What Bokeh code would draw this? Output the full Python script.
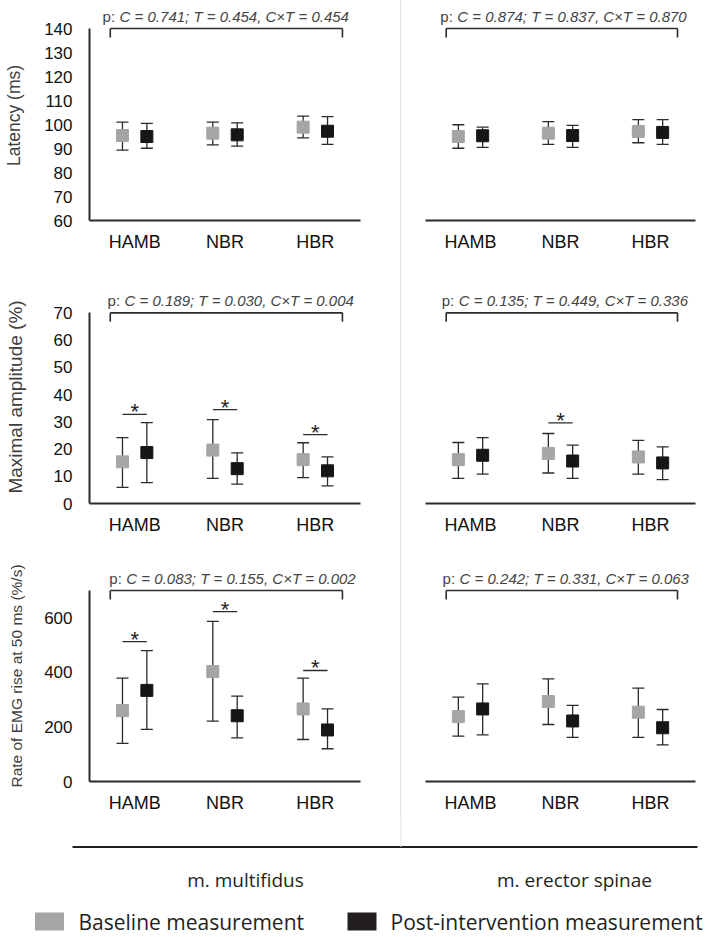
from bokeh.plotting import figure
from bokeh.models import (Range1d, FixedTicker, Whisker, TeeHead, ColumnDataSource,
                          Label, LabelSet, Div)
from bokeh.layouts import column, row
from bokeh.embed import file_html
from bokeh.resources import INLINE
from bokeh.core.properties import value

# ---------------- data ----------------
categories = ["HAMB", "NBR", "HBR"]

# Latency (ms)
lat_mf_base = [95.4, 96.4, 98.9]
lat_mf_base_lo = [89.3, 91.5, 94.4]
lat_mf_base_hi = [101.0, 101.0, 103.5]
lat_mf_post = [95.0, 95.7, 97.2]
lat_mf_post_lo = [90.1, 91.0, 91.7]
lat_mf_post_hi = [100.5, 100.7, 103.3]
lat_es_base = [95.0, 96.4, 97.1]
lat_es_base_lo = [90.1, 91.7, 92.4]
lat_es_base_hi = [99.9, 101.2, 102.0]
lat_es_post = [95.3, 95.4, 96.7]
lat_es_post_lo = [90.5, 90.5, 91.7]
lat_es_post_hi = [98.9, 99.6, 102.0]

# Maximal amplitude (%)
amp_mf_base = [15.3, 19.6, 16.1]
amp_mf_base_lo = [5.9, 9.2, 9.5]
amp_mf_base_hi = [24.2, 30.8, 22.3]
amp_mf_post = [18.7, 12.8, 12.0]
amp_mf_post_lo = [7.7, 7.1, 6.5]
amp_mf_post_hi = [29.7, 18.6, 17.1]
amp_es_base = [16.1, 18.4, 17.1]
amp_es_base_lo = [9.2, 11.2, 10.8]
amp_es_base_hi = [22.4, 25.7, 23.2]
amp_es_post = [17.7, 15.6, 14.9]
amp_es_post_lo = [10.8, 9.2, 8.8]
amp_es_post_hi = [24.2, 21.4, 20.8]

# Rate of EMG rise at 50 ms (%/s)
emg_mf_base = [260, 403, 266]
emg_mf_base_lo = [140, 221, 154]
emg_mf_base_hi = [379, 587, 379]
emg_mf_post = [334, 241, 189]
emg_mf_post_lo = [191, 160, 120]
emg_mf_post_hi = [480, 313, 266]
emg_es_base = [238, 293, 254]
emg_es_base_lo = [166, 209, 162]
emg_es_base_hi = [309, 376, 342]
emg_es_post = [266, 222, 197]
emg_es_post_lo = [171, 162, 134]
emg_es_post_hi = [358, 279, 264]

# p-values text
p_lat_mf = "C = 0.741; T = 0.454, C×T = 0.454"
p_lat_es = "C = 0.874; T = 0.837, C×T = 0.870"
p_amp_mf = "C = 0.189; T = 0.030, C×T = 0.004"
p_amp_es = "C = 0.135; T = 0.449, C×T = 0.336"
p_emg_mf = "C = 0.083; T = 0.155, C×T = 0.002"
p_emg_es = "C = 0.242; T = 0.331, C×T = 0.063"

# significant pairwise differences (category index, level of the bar)
sig_amp_mf_cat = [0, 1, 2]
sig_amp_mf_lvl = [32.7, 34.5, 25.3]
sig_amp_es_cat = [1]
sig_amp_es_lvl = [29.6]
sig_emg_mf_cat = [0, 1, 2]
sig_emg_mf_lvl = [513, 623, 407]

muscles = ["m. multifidus", "m. erector spinae"]
legend_labels = ["Baseline measurement", "Post-intervention measurement"]

# ---------------- styles ----------------
GREY = "#a5a5a5"
BLACK = "#161616"
LINE = "#2b2b2b"
SEP = "#e2e2e2"
ARIAL = "Liberation Sans"
DODGE = 0.135


def panel(width, height, border, yr, bounds, ticks, base, post, ptext, pstart,
          ytitle=None, ytitle_size="17px", ytitle_standoff=16, sig=None):
    bl, br, bt, bb = border
    p = figure(width=width, height=height, x_range=Range1d(0.5, 3.5),
               y_range=Range1d(*yr), output_backend="svg", toolbar_location=None,
               title=None, min_border_left=bl, min_border_right=br,
               min_border_top=bt, min_border_bottom=bb,
               y_axis_location="left" if ytitle else None,
               outline_line_color=None, background_fill_color="white",
               border_fill_color="white")
    p.grid.visible = False
    frame_h = height - bt - bb
    ppu = frame_h / (yr[1] - yr[0])

    # x axis
    xa = p.xaxis[0]
    xa.ticker = FixedTicker(ticks=[1, 2, 3])
    xa.major_label_overrides = {i + 1: c for i, c in enumerate(categories)}
    xa.major_label_text_font = ARIAL
    xa.major_label_text_font_size = "18px"
    xa.major_label_text_color = "#111111"
    xa.major_label_standoff = 5
    xa.major_tick_line_color = None
    xa.minor_tick_line_color = None
    xa.axis_line_width = 2
    xa.axis_line_color = LINE

    if ytitle:
        ya = p.yaxis[0]
        ya.ticker = FixedTicker(ticks=ticks)
        ya.bounds = bounds
        ya.major_label_text_font = ARIAL
        ya.major_label_text_font_size = "17px"
        ya.major_label_text_color = "#111111"
        ya.major_label_standoff = 11
        ya.major_tick_line_color = None
        ya.minor_tick_line_color = None
        ya.axis_line_width = 2
        ya.axis_line_color = LINE
        ya.axis_label = ytitle
        ya.axis_label_text_font = ARIAL
        ya.axis_label_text_font_style = "normal"
        ya.axis_label_text_font_size = ytitle_size
        ya.axis_label_text_color = "#404040"
        ya.axis_label_standoff = ytitle_standoff

    # error bars + markers
    for (vals, lo, hi), off, col in ((base, -DODGE, GREY), (post, DODGE, BLACK)):
        xs = [i + 1 + off for i in range(len(vals))]
        src = ColumnDataSource(dict(x=xs, y=vals, lo=lo, hi=hi))
        w = Whisker(base="x", lower="lo", upper="hi", source=src, dimension="height",
                    line_color=LINE, line_width=1.3,
                    upper_head=TeeHead(size=12, line_color=LINE, line_width=1.3),
                    lower_head=TeeHead(size=12, line_color=LINE, line_width=1.3))
        p.add_layout(w)
        p.scatter(x="x", y="y", source=src, marker="square", size=12,
                  fill_color=col, line_color=col)

    # bracket with p-values
    ytop = bounds[1]
    tick = 9 / ppu
    bx0, bx1 = 0.73, 3.3
    p.segment(x0=[bx0, bx0, bx1], y0=[ytop, ytop, ytop], x1=[bx1, bx0, bx1],
              y1=[ytop, ytop - tick, ytop - tick], line_color=LINE, line_width=1.6)
    p.add_layout(Label(x=pstart, y=ytop, y_offset=12, text="p:", text_font=ARIAL,
                       text_font_size="15px", text_color="#444444",
                       text_baseline="middle", text_align="left"))
    p.add_layout(Label(x=pstart, y=ytop, x_offset=17, y_offset=12, text=ptext,
                       text_font=ARIAL, text_font_style="italic",
                       text_font_size="15px", text_color="#444444",
                       text_baseline="middle", text_align="left"))

    # significance markers
    if sig:
        cats, lvls = sig
        p.segment(x0=[c + 1 - DODGE for c in cats], y0=lvls,
                  x1=[c + 1 + DODGE for c in cats], y1=lvls,
                  line_color=LINE, line_width=1.3)
        ssrc = ColumnDataSource(dict(x=[c + 1 for c in cats], y=lvls,
                                     t=["*"] * len(cats)))
        p.add_layout(LabelSet(x="x", y="y", text="t", source=ssrc, y_offset=-5,
                              text_align="center", text_baseline="alphabetic",
                              text_font=value(ARIAL), text_font_size="22px",
                              text_color="#222222"))
    return p


LW, RW = 400, 313
H1, H2, H3 = 285, 275, 255

f_lat_mf = panel(LW, H1, (89, 40, 10, 65), (60, 147.5), (60, 140), list(range(60, 141, 10)),
                 (lat_mf_base, lat_mf_base_lo, lat_mf_base_hi),
                 (lat_mf_post, lat_mf_post_lo, lat_mf_post_hi),
                 p_lat_mf, 0.645, ytitle="Latency (ms)", ytitle_size="17.5px",
                 ytitle_standoff=17)
f_lat_es = panel(RW, H1, (24, 17, 10, 65), (60, 147.5), (60, 140), [],
                 (lat_es_base, lat_es_base_lo, lat_es_base_hi),
                 (lat_es_post, lat_es_post_lo, lat_es_post_hi),
                 p_lat_es, 0.665)
f_amp_mf = panel(LW, H2, (88, 26, 5, 57), (0, 78.2), (0, 70), list(range(0, 71, 10)),
                 (amp_mf_base, amp_mf_base_lo, amp_mf_base_hi),
                 (amp_mf_post, amp_mf_post_lo, amp_mf_post_hi),
                 p_amp_mf, 0.70, ytitle="Maximal amplitude (%)", ytitle_size="19px",
                 ytitle_standoff=25, sig=(sig_amp_mf_cat, sig_amp_mf_lvl))
f_amp_es = panel(RW, H2, (23, 19, 5, 57), (0, 78.2), (0, 70), [],
                 (amp_es_base, amp_es_base_lo, amp_es_base_hi),
                 (amp_es_post, amp_es_post_lo, amp_es_post_hi),
                 p_amp_es, 0.68, sig=(sig_amp_es_cat, sig_amp_es_lvl))
f_emg_mf = panel(LW, H3, (88, 26, 10, 34), (0, 773.5), (0, 700), [0, 200, 400, 600],
                 (emg_mf_base, emg_mf_base_lo, emg_mf_base_hi),
                 (emg_mf_post, emg_mf_post_lo, emg_mf_post_hi),
                 p_emg_mf, 0.72, ytitle="Rate of EMG rise at 50 ms (%/s)",
                 ytitle_size="15.5px", ytitle_standoff=16,
                 sig=(sig_emg_mf_cat, sig_emg_mf_lvl))
f_emg_es = panel(RW, H3, (23, 18, 10, 34), (0, 773.5), (0, 700), [],
                 (emg_es_base, emg_es_base_lo, emg_es_base_hi),
                 (emg_es_post, emg_es_post_lo, emg_es_post_hi),
                 p_emg_es, 0.69)

sep = Div(text="", width=1, height=H1 + H2 + H3, margin=(0, 0, 0, 0),
          styles={"background-color": SEP})

left = column(f_lat_mf, f_amp_mf, f_emg_mf, spacing=0)
right = column(f_lat_es, f_amp_es, f_emg_es, spacing=0)
top = row(left, sep, right, spacing=0)

# bottom: muscle group line, labels and legend (canvas in page pixels)
BW, BH = 714, 121
fb = figure(width=BW, height=BH, x_range=Range1d(0, BW), y_range=Range1d(BH, 0),
            output_backend="svg", toolbar_location=None, title=None, min_border=0,
            x_axis_location=None, y_axis_location=None, outline_line_color=None)
fb.grid.visible = False
fb.segment(x0=[72], y0=[31.5], x1=[697], y1=[31.5], line_width=2, line_color="#231f20")
fb.segment(x0=[400.5], y0=[0], x1=[400.5], y1=[31.5], line_width=1, line_color=SEP)
fb.text(x=[245, 574], y=[64, 64], text=muscles, text_align="center",
        text_baseline="middle", text_font=value("Open Sans"), text_font_size="19px",
        text_color="#231f20")
fb.rect(x=[49, 361.5], y=[106, 106], width=29, height=18,
        fill_color=[GREY, "#231f20"], line_color=None)
fb.text(x=[78, 390], y=[106, 106], text=legend_labels, text_align="left",
        text_baseline="middle", text_font=value("Open Sans"), text_font_size="21px",
        text_color="#231f20")

layout = column(top, fb, spacing=0)
open("out.html", "w").write(file_html(layout, INLINE))
